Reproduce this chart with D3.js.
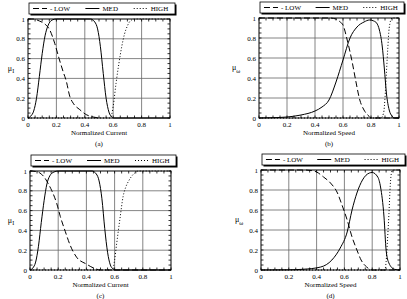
<!DOCTYPE html>
<html>
<head>
<meta charset="utf-8">
<script src="https://cdn.jsdelivr.net/npm/d3@7"></script>
<style>
  body { margin: 0; background: #fff; }
  svg { font-family: "Liberation Serif", "DejaVu Serif", serif; }
  text { fill: #000; }
</style>
</head>
<body>
<svg id="chart" width="407" height="299"></svg>
<script>
// valores
const tickValues = [0, 0.2, 0.4, 0.6, 0.8, 1];
const tickLabels = ["0", "0.2", "0.4", "0.6", "0.8", "1"];
const seriesNames = ["- LOW", "MED", "HIGH"];
const panelTags = ["(a)", "(b)", "(c)", "(d)"];
const xTitles = ["Normalized Current", "Normalized Speed", "Normalized Current", "Normalized Speed"];
const ySubs = ["I", "ω", "I", "ω"];

const lowA = [[0,1],[0.035,1],[0.08,0.98],[0.118,0.95],[0.153,0.89],[0.188,0.755],[0.219,0.6],[0.247,0.47],[0.27,0.37],[0.294,0.22],[0.318,0.15],[0.365,0.084],[0.41,0.034],[0.46,0.01],[0.5,0]];
const medA = [[0,0],[0.02,0.02],[0.04,0.07],[0.06,0.2],[0.08,0.42],[0.1,0.65],[0.12,0.83],[0.14,0.93],[0.17,0.99],[0.2,1],[0.44,1],[0.47,0.97],[0.49,0.9],[0.51,0.72],[0.53,0.45],[0.55,0.2],[0.57,0.06],[0.59,0.01],[0.6,0],[1,0]];
const highA = [[0,0],[0.58,0],[0.6,0.12],[0.62,0.35],[0.64,0.55],[0.66,0.72],[0.68,0.85],[0.7,0.93],[0.72,0.98],[0.75,1],[1,1]];

const lowB = [[0,1],[0.5,1],[0.55,0.99],[0.58,0.96],[0.6,0.93],[0.63,0.78],[0.667,0.55],[0.69,0.38],[0.72,0.18],[0.75,0.08],[0.786,0.017],[0.8,0],[1,0]];
const medB = [[0,0],[0.1,0.003],[0.2,0.01],[0.3,0.03],[0.4,0.07],[0.45,0.11],[0.5,0.18],[0.55,0.36],[0.6,0.58],[0.65,0.8],[0.7,0.91],[0.75,0.96],[0.79,0.98],[0.82,0.97],[0.84,0.95],[0.86,0.88],[0.88,0.72],[0.895,0.5],[0.91,0.25],[0.93,0.08],[0.95,0.02],[0.97,0],[1,0]];
const highB = [[0,0],[0.87,0],[0.89,0.05],[0.9,0.2],[0.91,0.45],[0.92,0.7],[0.93,0.9],[0.95,1],[1,1]];

const lowC = [[0,1],[0.04,0.995],[0.07,0.98],[0.1,0.94],[0.13,0.87],[0.155,0.8],[0.19,0.67],[0.215,0.54],[0.25,0.39],[0.285,0.25],[0.33,0.13],[0.4,0.06],[0.46,0.015],[0.5,0],[1,0]];
const medC = [[0,0],[0.02,0.02],[0.04,0.08],[0.06,0.24],[0.08,0.48],[0.1,0.7],[0.12,0.87],[0.14,0.95],[0.17,0.99],[0.2,1],[0.44,1],[0.47,0.97],[0.49,0.9],[0.51,0.72],[0.53,0.42],[0.55,0.18],[0.57,0.05],[0.59,0.01],[0.6,0],[1,0]];
const highC = [[0,0],[0.585,0],[0.6,0.1],[0.615,0.27],[0.64,0.54],[0.66,0.74],[0.68,0.84],[0.7,0.9],[0.735,0.97],[0.77,1],[1,1]];

const lowD = [[0,1],[0.3,1],[0.36,0.995],[0.4,0.98],[0.45,0.93],[0.5,0.87],[0.55,0.77],[0.58,0.66],[0.62,0.5],[0.655,0.33],[0.69,0.2],[0.72,0.1],[0.76,0.03],[0.8,0],[1,0]];
const medD = [[0,0],[0.2,0.002],[0.3,0.007],[0.43,0.03],[0.51,0.1],[0.57,0.22],[0.62,0.38],[0.655,0.6],[0.69,0.77],[0.73,0.9],[0.78,0.97],[0.8,0.975],[0.84,0.93],[0.86,0.83],[0.885,0.53],[0.9,0.2],[0.92,0.07],[0.96,0.007],[1,0]];
const highD = [[0,0],[0.89,0],[0.9,0.08],[0.91,0.3],[0.92,0.55],[0.93,0.85],[0.94,0.98],[0.95,1],[1,1]];

const panelSeries = [[lowA, medA, highA], [lowB, medB, highB], [lowC, medC, highC], [lowD, medD, highD]];

// posição de cada painel (caixa do gráfico)
const layout = [
  { x0: 28, x1: 170, y0: 19, y1: 118, ylab: 11 },
  { x0: 259, x1: 399, y0: 18, y1: 118, ylab: 236 },
  { x0: 30, x1: 171, y0: 171, y1: 270, ylab: 11 },
  { x0: 261, x1: 400, y0: 170, y1: 270, ylab: 239 }
];

const dashes = ["6,3", null, "1,2"];

const svg = d3.select("#chart");
svg.append("rect").attr("width", 407).attr("height", 299).attr("fill", "#fff");

const minorTicks = d3.range(0, 1.0001, 0.05);

layout.forEach((p, i) => {
  const x = d3.scaleLinear().domain([0, 1]).range([p.x0, p.x1]);
  const y = d3.scaleLinear().domain([0, 1]).range([p.y1, p.y0]);
  const g = svg.append("g");

  //grade
  g.selectAll(".gx").data(tickValues.slice(1, -1)).enter().append("line")
    .attr("x1", d => x(d)).attr("x2", d => x(d))
    .attr("y1", p.y0).attr("y2", p.y1)
    .attr("stroke", "#666").attr("stroke-width", 0.8);
  g.selectAll(".gy").data(tickValues.slice(1, -1)).enter().append("line")
    .attr("y1", d => y(d)).attr("y2", d => y(d))
    .attr("x1", p.x0).attr("x2", p.x1)
    .attr("stroke", "#666").attr("stroke-width", 0.8);

  //ticks menores para dentro, nos quatro lados
  const tk = 2.5;
  g.selectAll(".tb").data(minorTicks).enter().append("line")
    .attr("x1", d => x(d)).attr("x2", d => x(d))
    .attr("y1", p.y1).attr("y2", p.y1 - tk).attr("stroke", "#000").attr("stroke-width", 0.8);
  g.selectAll(".tt").data(minorTicks).enter().append("line")
    .attr("x1", d => x(d)).attr("x2", d => x(d))
    .attr("y1", p.y0).attr("y2", p.y0 + tk).attr("stroke", "#000").attr("stroke-width", 0.8);
  g.selectAll(".tl").data(minorTicks).enter().append("line")
    .attr("y1", d => y(d)).attr("y2", d => y(d))
    .attr("x1", p.x0).attr("x2", p.x0 + tk).attr("stroke", "#000").attr("stroke-width", 0.8);
  g.selectAll(".tr").data(minorTicks).enter().append("line")
    .attr("y1", d => y(d)).attr("y2", d => y(d))
    .attr("x1", p.x1).attr("x2", p.x1 - tk).attr("stroke", "#000").attr("stroke-width", 0.8);

  //curvas
  const line = d3.line().x(d => x(d[0])).y(d => y(d[1])).curve(d3.curveMonotoneX);
  panelSeries[i].forEach((s, k) => {
    g.append("path").attr("d", line(s))
      .attr("fill", "none").attr("stroke", "#000").attr("stroke-width", 1)
      .attr("stroke-dasharray", dashes[k]);
  });

  //moldura
  g.append("rect").attr("x", p.x0).attr("y", p.y0)
    .attr("width", p.x1 - p.x0).attr("height", p.y1 - p.y0)
    .attr("fill", "none").attr("stroke", "#000").attr("stroke-width", 1);

  //rótulos dos eixos
  g.selectAll(".lx").data(tickValues).enter().append("text")
    .attr("x", d => x(d)).attr("y", p.y1 + 9)
    .attr("text-anchor", "middle").attr("font-size", 7)
    .text((d, j) => tickLabels[j]);
  g.selectAll(".ly").data(tickValues).enter().append("text")
    .attr("x", p.x0 - 3).attr("y", d => y(d) + 2.5)
    .attr("text-anchor", "end").attr("font-size", 7)
    .text((d, j) => tickLabels[j]);

  g.append("text").attr("x", (p.x0 + p.x1) / 2).attr("y", p.y1 + 17)
    .attr("text-anchor", "middle").attr("font-size", 7).text(xTitles[i]);
  g.append("text").attr("x", (p.x0 + p.x1) / 2).attr("y", p.y1 + 28)
    .attr("text-anchor", "middle").attr("font-size", 7).text(panelTags[i]);

  const yl = g.append("text").attr("x", p.ylab).attr("y", (p.y0 + p.y1) / 2 + 2)
    .attr("text-anchor", "middle").attr("font-size", 8).attr("fill", "#000");
  yl.append("tspan").attr("fill", "#000").text("μ");
  yl.append("tspan").attr("fill", "#000").attr("font-size", 6).attr("dy", 2.5).text(ySubs[i]);

  //legenda com sombra
  const lx = p.x0 + 1, ly = p.y0 - 16, lw = p.x1 - p.x0 + 4, lh = 11;
  g.append("rect").attr("x", lx + 1.5).attr("y", ly + 1.5).attr("width", lw).attr("height", lh)
    .attr("fill", "#000");
  g.append("rect").attr("x", lx).attr("y", ly).attr("width", lw).attr("height", lh)
    .attr("fill", "#fff").attr("stroke", "#000").attr("stroke-width", 0.8);
  const slots = [4, 56, 104];
  seriesNames.forEach((name, k) => {
    const sx = lx + slots[k] * lw / 145;
    g.append("line").attr("x1", sx).attr("x2", sx + 14)
      .attr("y1", ly + lh / 2).attr("y2", ly + lh / 2)
      .attr("stroke", "#000").attr("stroke-width", 1)
      .attr("stroke-dasharray", dashes[k]);
    g.append("text").attr("x", sx + 17).attr("y", ly + lh / 2 + 2.5)
      .attr("font-size", 7).text(name);
  });
});
</script>
</body>
</html>
